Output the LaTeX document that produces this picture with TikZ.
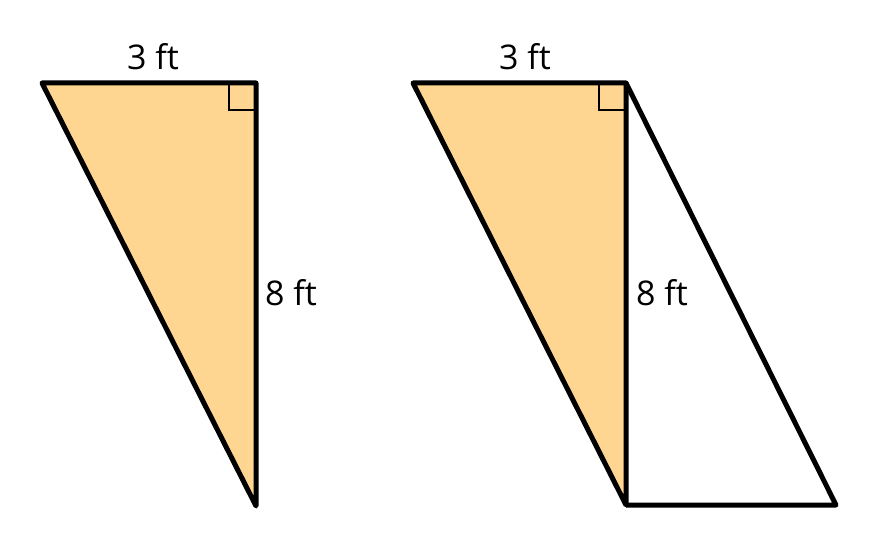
\documentclass[tikz,border=0pt]{standalone}
\usepackage{fontspec}
\setmainfont{Open Sans}
\definecolor{paleorange}{RGB}{254,214,145}
\tikzstyle{edge} = [line width=5pt, line join=round]
\tikzstyle{shaded} = [edge, fill=paleorange]
\tikzstyle{anglemark} = [line width=2.5pt]
\tikzstyle{lbl} = [font=\fontsize{34}{40}\selectfont, inner sep=0pt]

\begin{document}
\begin{tikzpicture}[x=1pt, y=-1pt]
    \useasboundingbox[fill=white] (0,0) rectangle (880,556);
    % left triangle
    \coordinate (a1) at (42,83);
    \coordinate (b1) at (256,83);
    \coordinate (c1) at (256,506);
    \draw [shaded] (a1) -- (b1) -- (c1) -- cycle;
    \draw [anglemark] ([xshift=-27pt]b1) -- ++(0,27) -- ++(27,0);
    \node (w1) [lbl] at (153,57)  {3 ft};
    \node (h1) [lbl] at (291,293) {8 ft};
    % right triangle and parallelogram
    \coordinate (a2) at (413,83);
    \coordinate (b2) at (626,83);
    \coordinate (c2) at (626,505);
    \coordinate (d2) at (836,505);
    \draw [shaded] (a2) -- (b2) -- (c2) -- cycle;
    \draw [edge] (b2) -- (d2) -- (c2);
    \draw [anglemark] ([xshift=-27pt]b2) -- ++(0,27) -- ++(27,0);
    \node (w2) [lbl] at (525,57)  {3 ft};
    \node (h2) [lbl] at (662,293) {8 ft};
\end{tikzpicture}
\end{document}
